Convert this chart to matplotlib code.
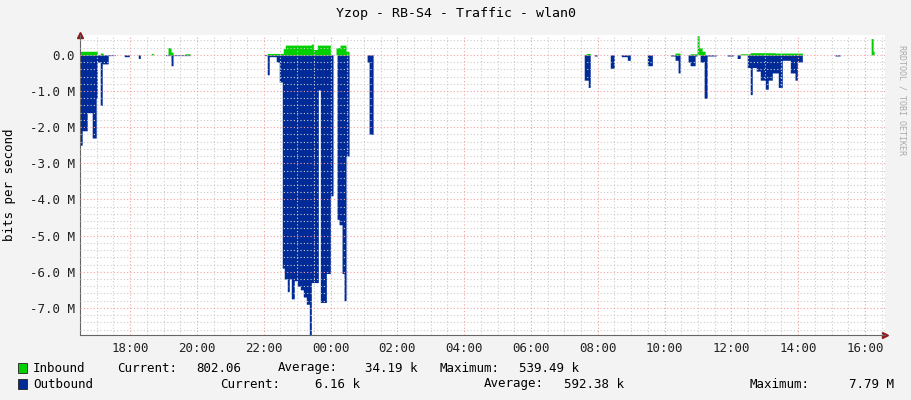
import matplotlib
matplotlib.use('Agg')
import matplotlib.pyplot as plt
import numpy as np

# hours since midnight of first day (24+ = next day), values in Mbit/s
outbound_segments = [
    (16.50, 16.56, -2.5), (16.56, 16.71, -2.1), (16.71, 16.86, -1.6), (16.86, 16.98, -2.3),
    (16.98, 17.01, -1.2), (17.01, 17.10, -0.2), (17.10, 17.16, -1.4), (17.16, 17.34, -0.25),
    (17.34, 17.55, -0.02), (17.82, 17.97, -0.05), (18.24, 18.30, -0.1), (19.05, 19.79, -0.02),
    (19.22, 19.28, -0.3), (22.01, 22.10, -0.02), (22.10, 22.16, -0.55), (22.16, 22.37, -0.05),
    (22.37, 22.46, -0.2), (22.46, 22.55, -0.75), (22.55, 22.61, -5.9), (22.61, 22.70, -6.2),
    (22.70, 22.76, -6.55), (22.76, 22.82, -6.2), (22.82, 22.91, -6.75), (22.91, 23.00, -6.25),
    (23.00, 23.09, -6.4), (23.09, 23.18, -6.5), (23.18, 23.27, -6.7), (23.27, 23.36, -6.9),
    (23.36, 23.42, -7.79), (23.42, 23.63, -6.3), (23.63, 23.69, -0.97), (23.69, 23.87, -6.85),
    (23.87, 23.99, -6.05), (23.99, 24.07, -3.9), (24.19, 24.25, -4.55), (24.25, 24.34, -4.7),
    (24.34, 24.40, -6.05), (24.40, 24.46, -6.8), (24.46, 24.55, -2.8), (25.09, 25.15, -0.2),
    (25.15, 25.27, -2.2),
    (31.59, 31.71, -0.7), (31.71, 31.77, -0.9), (31.89, 31.98, -0.03), (32.37, 32.49, -0.37),
    (32.70, 32.88, -0.05), (32.88, 32.97, -0.15), (33.48, 33.63, -0.3), (34.17, 34.31, -0.03),
    (34.31, 34.40, -0.15), (34.40, 34.46, -0.5), (34.70, 34.76, -0.2), (34.76, 34.91, -0.3),
    (34.91, 34.97, -0.03), (35.06, 35.18, -0.2), (35.18, 35.27, -1.2), (35.27, 35.54, -0.03),
    (35.87, 36.05, -0.03), (36.17, 36.26, -0.1), (36.47, 36.56, -0.35), (36.56, 36.62, -1.1),
    (36.62, 36.74, -0.35), (36.74, 36.86, -0.45), (36.86, 37.01, -0.7), (37.01, 37.10, -0.95),
    (37.10, 37.22, -0.7), (37.22, 37.40, -0.5), (37.40, 37.52, -0.9), (37.52, 37.76, -0.15),
    (37.76, 37.90, -0.5), (37.90, 37.97, -0.7), (37.97, 38.12, -0.2), (39.10, 39.25, -0.03),
]
inbound_segments = [
    (16.50, 17.01, 0.1), (17.10, 17.19, 0.05), (18.63, 18.69, 0.04), (19.13, 19.22, 0.2),
    (19.22, 19.28, 0.08), (19.64, 19.79, 0.03), (22.10, 22.58, 0.04), (22.58, 22.64, 0.17),
    (22.64, 23.42, 0.27), (23.42, 23.48, 0.3), (23.48, 23.60, 0.15), (23.60, 23.99, 0.27),
    (24.16, 24.28, 0.2), (24.28, 24.46, 0.27), (24.46, 24.55, 0.1), (31.65, 31.77, 0.04),
    (34.31, 34.46, 0.05), (34.76, 34.97, 0.03), (34.97, 35.03, 0.53), (35.03, 35.12, 0.2),
    (35.12, 35.21, 0.1), (36.26, 36.56, 0.03), (36.56, 37.31, 0.06), (37.31, 38.12, 0.05),
    (40.18, 40.24, 0.45), (40.24, 40.27, 0.1),
]
t_start, t_end = 16.50, 40.60
y_ticks = [0, -1, -2, -3, -4, -5, -6, -7]
y_labels = ['0.0', '-1.0 M', '-2.0 M', '-3.0 M', '-4.0 M', '-5.0 M', '-6.0 M', '-7.0 M']
x_ticks = list(range(18, 42, 2))
x_labels = ['%02d:00' % (h % 24) for h in x_ticks]

t = np.arange(t_start, t_end, 0.005)
def build(segs):
    v = np.zeros_like(t)
    for a, b, val in segs:
        v[(t >= a) & (t < b)] = val
    return v
out_v = build(outbound_segments)
in_v = build(inbound_segments)

mono = 'DejaVu Sans Mono'
plt.rcParams['font.family'] = mono
fig = plt.figure(figsize=(9.11, 4.0), dpi=100, facecolor='#f3f3f3')
ax = fig.add_axes([80/911, 65/400, 805/911, 300/400])
ax.set_facecolor('white')
ax.fill_between(t, out_v, 0, step='post', color='#002A97', linewidth=0)
ax.fill_between(t, in_v, 0, step='post', color='#00CF00', linewidth=0)
ax.set_xlim(t_start, t_end)
ax.set_ylim(-7.75, 0.55)

ax.set_xticks(x_ticks)
ax.set_xticklabels(x_labels)
ax.set_xticks(np.arange(17, 41, 0.5), minor=True)
ax.set_yticks(y_ticks)
ax.set_yticklabels(y_labels)
ax.set_yticks(np.arange(-7.6, 0.5, 0.2), minor=True)
ax.grid(which='minor', color='#cccccc', linestyle=(0, (1, 2)), linewidth=0.8)
ax.grid(which='major', color='#f4a0a0', linestyle=(0, (1, 2)), linewidth=0.8)
ax.set_axisbelow(False)
ax.tick_params(which='both', length=0, labelsize=9, colors='#222222')
ax.tick_params(axis='x', pad=5)
for s in ['top', 'right']:
    ax.spines[s].set_visible(False)
for s in ['left', 'bottom']:
    ax.spines[s].set_color('#666666')
ax.plot([0], [1], marker='^', color='#8b1a1a', markersize=5, transform=ax.transAxes, clip_on=False)
ax.plot([1], [0], marker='>', color='#8b1a1a', markersize=5, transform=ax.transAxes, clip_on=False)
ax.set_ylabel('bits per second', fontsize=9, labelpad=10)

fig.text(0.5, 1 - 14/400, 'Yzop - RB-S4 - Traffic - wlan0', ha='center', va='center', fontsize=9.5)
fig.text(902/911, 0.75, 'RRDTOOL / TOBI OETIKER', rotation=270, ha='center', va='center',
         fontsize=6, color='#aaaaaa')

def legend_row(y, color, parts):
    fig.patches.append(plt.Rectangle((18/911, (400 - y - 5)/400), 9/911, 10/400,
                                     transform=fig.transFigure, facecolor=color,
                                     edgecolor='#222222', linewidth=0.6))
    for x, s in parts:
        fig.text(x/911, 1 - y/400, s, ha='left', va='center', fontsize=9)

legend_row(368, '#00CF00', [(33, 'Inbound'), (117, 'Current:'), (196, '802.06'), (278, 'Average:'),
                            (365, '34.19 k'), (439, 'Maximum:'), (519, '539.49 k')])
legend_row(384, '#002A97', [(33, 'Outbound'), (220, 'Current:'), (315, '6.16 k'), (484, 'Average:'),
                            (564, '592.38 k'), (750, 'Maximum:'), (849, '7.79 M')])

fig.savefig('out.png', dpi=100, facecolor=fig.get_facecolor())
